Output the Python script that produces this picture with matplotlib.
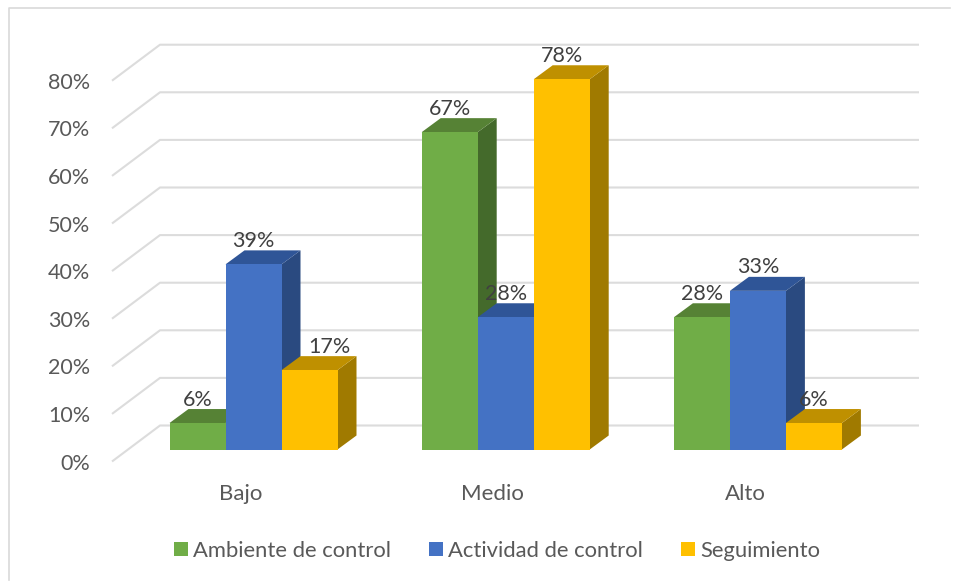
import matplotlib
matplotlib.use("Agg")
import matplotlib.pyplot as plt
from matplotlib.patches import Patch, Polygon

categories = ["Bajo", "Medio", "Alto"]
series_names = ["Ambiente de control", "Actividad de control", "Seguimiento"]
ambiente = [5.56, 66.67, 27.78]
actividad = [38.89, 27.78, 33.33]
seguimiento = [16.67, 77.78, 5.56]
y_ticks = [0, 10, 20, 30, 40, 50, 60, 70, 80]

front_colors = ["#70AD47", "#4472C4", "#FFC000"]
top_colors = ["#568235", "#2F5597", "#BF9000"]
side_colors = ["#446A2B", "#2A4A80", "#A07A00"]

W, H = 963, 586
PX_X = 252.2  # pixels per category
PX_Y = 4.76  # pixels per percent
X0, Y0 = 253.5, 449.5  # pixel of first group center, value 0


def dx(px):
    return px / PX_X


def dy(px):
    return px / PX_Y


plt.rcParams["font.family"] = ["Lato", "DejaVu Sans"]
fig = plt.figure(figsize=(W / 100, H / 100), dpi=100)
ax = fig.add_axes([0, 0, 1, 1])
ax.set_xlim(-X0 / PX_X, (W - X0) / PX_X)
ax.set_ylim(-(H - Y0) / PX_Y, Y0 / PX_Y)
ax.axis("off")

# left and top edge of the chart frame
frame_x = [dx(9.5 - X0), dx(9.5 - X0), dx(950 - X0)]
frame_y = [dy(Y0 - 580), dy(Y0 - 7.5), dy(Y0 - 7.5)]
ax.plot(frame_x, frame_y, color="#D9D9D9", lw=1.2, zorder=1)

# gridlines: side wall diagonal, then along the back wall
for t in y_ticks:
    gx = [dx(112 - X0), dx(160 - X0), dx(919 - X0)]
    gy = [t + dy(-12), t + dy(24), t + dy(24)]
    ax.plot(gx, gy, color="#DCDCDC", lw=1.5, zorder=1, solid_capstyle="butt")
    ax.text(dx(90 - X0), t + dy(-14), f"{t}%", ha="right", va="center",
            fontsize=15.5, color="#595959")

width = 56 / PX_X
depth_x = dx(19)
depth_y = dy(14)
all_values = [ambiente, actividad, seguimiento]

for i, cat in enumerate(categories):
    for j, values in enumerate(all_values):
        v = values[i]
        left = i + (j - 1.5) * width
        right = left + width
        z = 2 + i + j * 0.1
        side = [(right, 0), (right + depth_x, depth_y), (right + depth_x, v + depth_y), (right, v)]
        top = [(left, v), (left + depth_x, v + depth_y), (right + depth_x, v + depth_y), (right, v)]
        front = [(left, 0), (right, 0), (right, v), (left, v)]
        ax.add_patch(Polygon(side, fc=side_colors[j], ec="none", zorder=z))
        ax.add_patch(Polygon(top, fc=top_colors[j], ec="none", zorder=z))
        ax.add_patch(Polygon(front, fc=front_colors[j], ec="none", zorder=z))
        # the 17% label sits moved to the right in the original
        shift = dx(20) if (i, j) == (0, 2) else 0
        ax.text((left + right) / 2 + shift, v + depth_y + dy(9.5), f"{v:.0f}%", ha="center", va="center",
                fontsize=15.5, color="#404040", zorder=10)
    ax.text(i + dx(-13), dy(-44), cat, ha="center", va="center", fontsize=16, color="#595959")

handles = [Patch(fc=c, ec="none", label=n) for c, n in zip(front_colors, series_names)]
fig.legend(handles=handles, loc="center", bbox_to_anchor=(497 / W, 1 - 551 / H), ncol=3,
           frameon=False, fontsize=15.8, labelcolor="#595959", handlelength=0.63, handleheight=0.63,
           handletextpad=0.23, columnspacing=1.75, borderpad=0, borderaxespad=0)

fig.savefig("out.png", dpi=100)
